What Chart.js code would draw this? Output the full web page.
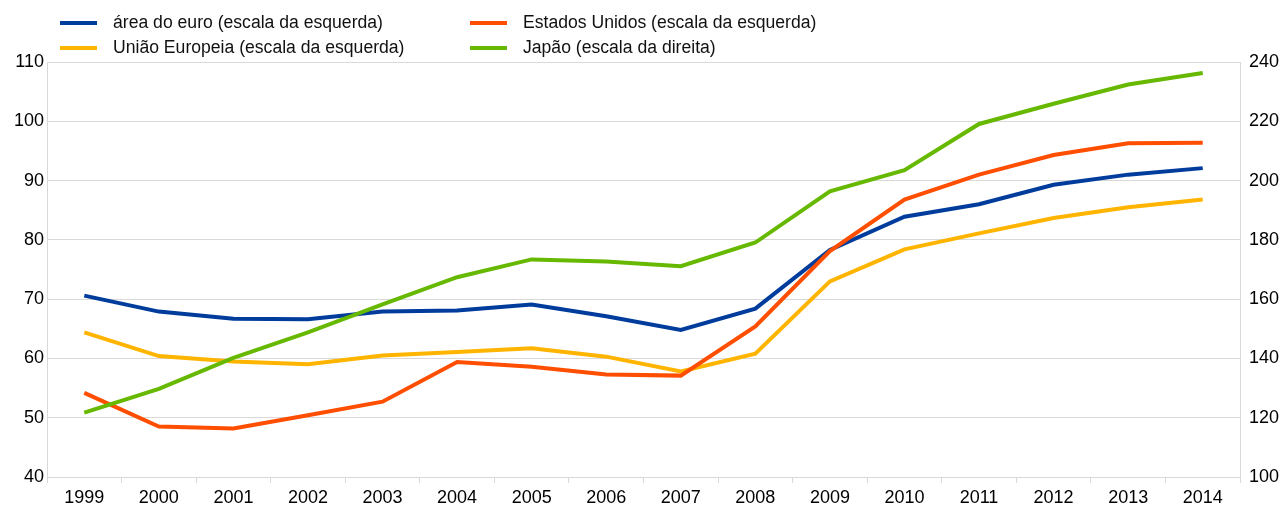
<!DOCTYPE html>
<html lang="pt">
<head>
<meta charset="utf-8">
<title>Dívida pública</title>
<script src="https://cdn.jsdelivr.net/npm/chart.js@4.4.1/dist/chart.umd.min.js"></script>
<style>
    body { margin: 0; background: #fff; }
    #wrap { position: relative; width: 1282px; height: 505px; }
    #legend {
        position: absolute; left: 60px; top: 12px;
        display: grid; grid-template-columns: 410px 400px; row-gap: 4px;
        font: 17.6px "Liberation Sans", Arial, sans-serif; color: #111;
    }
    .item { display: flex; align-items: center; height: 21px; white-space: nowrap; }
    .swatch { flex: 0 0 37px; height: 4px; margin-right: 16px; }
</style>
</head>
<body>
<div id="wrap">
    <canvas id="line-chart" width="1282" height="505"></canvas>
    <div id="legend"></div>
</div>
<script>
var anos = ['1999', '2000', '2001', '2002', '2003', '2004', '2005', '2006',
            '2007', '2008', '2009', '2010', '2011', '2012', '2013', '2014'];

// escala da esquerda
var areaEuro = [70.6, 67.9, 66.7, 66.6, 67.9, 68.1, 69.1, 67.1, 64.8, 68.4, 78.3, 83.9, 86.0, 89.3, 91.0, 92.1];
var estadosUnidos = [54.2, 48.5, 48.2, 50.4, 52.7, 59.4, 58.6, 57.3, 57.1, 65.4, 78.1, 86.8, 91.0, 94.3, 96.3, 96.4];
var uniaoEuropeia = [64.4, 60.4, 59.5, 59.0, 60.5, 61.1, 61.7, 60.3, 57.8, 60.8, 73.0, 78.4, 81.1, 83.7, 85.5, 86.8];
// escala da direita
var japao = [121.7, 129.7, 140.2, 148.8, 158.2, 167.4, 173.4, 172.7, 171.1, 179.1, 196.4, 203.5, 219.1, 225.9, 232.4, 236.3];

var eixoEsquerda = [40, 110, 10];
var eixoDireita = [100, 240, 20];

var fonte = { family: '"Liberation Sans", Arial, sans-serif', size: 18 };
var cinza = '#d9d9d9';

/**
 * Monta uma série de linha
 */
function serie(label, data, cor, eixo, ordem) {
    return {
        label: label,
        data: data,
        borderColor: cor,
        backgroundColor: cor,
        borderWidth: 4,
        pointRadius: 0,
        tension: 0,
        yAxisID: eixo,
        order: ordem
    };
}

var series = [
    serie('área do euro (escala da esquerda)', areaEuro, '#003c9c', 'y', 2),
    serie('Estados Unidos (escala da esquerda)', estadosUnidos, '#ff4e00', 'y', 1),
    serie('União Europeia (escala da esquerda)', uniaoEuropeia, '#ffb400', 'y', 3),
    serie('Japão (escala da direita)', japao, '#66b800', 'y1', 0)
];

/**
 * Legenda em duas colunas
 */
function montaLegenda() {
    var html = '';
    series.forEach(function(s) {
        html += '<div class="item"><span class="swatch" style="background:' + s.borderColor +
                '"></span>' + s.label + '</div>';
    });
    document.getElementById('legend').innerHTML = html;
}

function larguraFixa(valor) {
    return function(scale) { scale.width = valor; };
}

new Chart(document.getElementById('line-chart'), {
    type: 'line',
    data: { labels: anos, datasets: series },
    options: {
        responsive: false,
        animation: false,
        layout: { autoPadding: false, padding: { top: 62, left: 0, right: 0, bottom: 0 } },
        plugins: { legend: { display: false }, tooltip: { enabled: false } },
        scales: {
            x: {
                offset: true,
                grid: { offset: true, drawOnChartArea: false, drawTicks: true, tickLength: 6, color: cinza },
                border: { color: cinza },
                ticks: { color: '#000', font: fonte, padding: 4, maxRotation: 0 },
                afterFit: function(scale) { scale.height = 28; }
            },
            y: {
                position: 'left',
                min: eixoEsquerda[0], max: eixoEsquerda[1],
                grid: { color: cinza, drawTicks: false },
                border: { color: cinza },
                ticks: { stepSize: eixoEsquerda[2], color: '#000', font: fonte, padding: 3 },
                afterFit: larguraFixa(47)
            },
            y1: {
                position: 'right',
                min: eixoDireita[0], max: eixoDireita[1],
                grid: { drawOnChartArea: false, drawTicks: false },
                border: { color: cinza },
                ticks: { stepSize: eixoDireita[2], color: '#000', font: fonte, padding: 9 },
                afterFit: larguraFixa(42)
            }
        }
    }
});

montaLegenda();
</script>
</body>
</html>
